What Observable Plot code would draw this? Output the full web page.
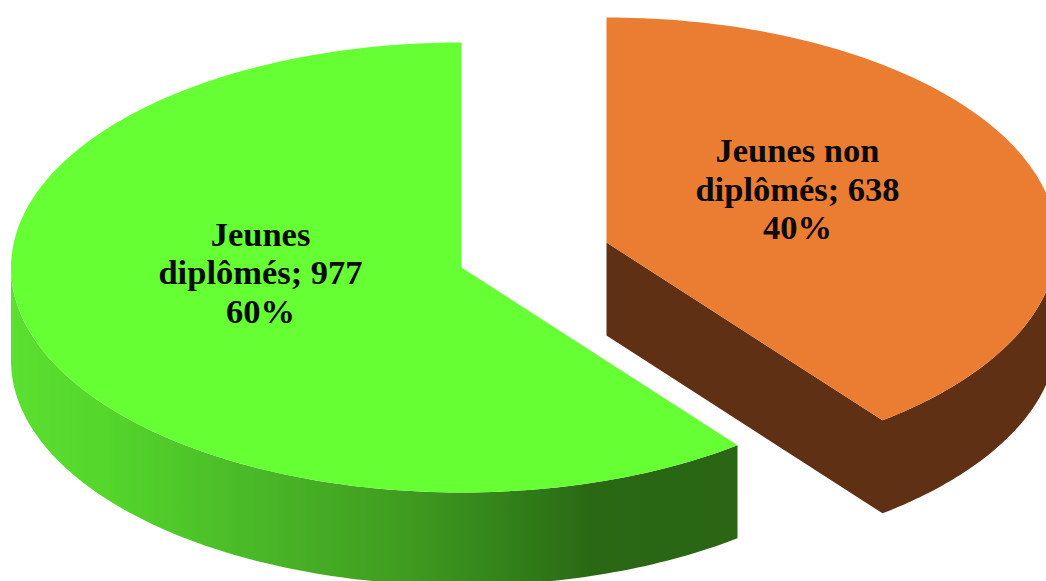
<!DOCTYPE html>
<html><head><meta charset="utf-8">
<script src="https://cdn.jsdelivr.net/npm/d3@7"></script>
<script src="https://cdn.jsdelivr.net/npm/@observablehq/plot@0.6"></script>
<style>html,body{margin:0;padding:0;background:#fff;overflow:hidden}</style>
</head><body><div id="chart"></div>
<script>
const categories = ["Jeunes diplômés", "Jeunes non diplômés"];
const counts = [977, 638];
const percents = ["60%", "40%"];
const labelLines = [["Jeunes", "diplômés; 977", "60%"], ["Jeunes non", "diplômés; 638", "40%"]];
const topColors = ["#66ff33", "#eb7d33"];
const sideColor = "#5f3014";

const W = 1046, H = 581, rx = 450.5, ry = 225, depth = 93;
const total = d3.sum(counts);
const sweep0 = counts[0] / total * 2 * Math.PI;
const centers = [[461, 267], [606, 242]];
// angle measured clockwise from 12 o'clock
const pt = (c, a, dy = 0) => [c[0] + rx * Math.sin(a), c[1] - ry * Math.cos(a) + dy];
const arc = (c, a0, a1, dy = 0) => d3.range(121).map(i => pt(c, a0 + (a1 - a0) * i / 120, dy));
const toRows = (id, pts) => pts.map(([x, y]) => ({id, x, y}));

const green0 = -sweep0, green1 = 0;
const orange0 = 0, orange1 = 2 * Math.PI - sweep0;

// top faces
const greenTop = [centers[0], ...arc(centers[0], green0, green1)];
const orangeTop = [centers[1], ...arc(centers[1], orange0, orange1)];

// green rim: visible from 9 o'clock going counter-clockwise to the cut edge
const gc = centers[0];
const gRimA = arc(gc, -Math.PI / 2, green0);
const greenRim = [...gRimA, ...gRimA.map(([x, y]) => [x, y + depth]).reverse()];

// orange side: one silhouette for the rim and the cut face
const oc = centers[1];
const oRimA = arc(oc, Math.PI / 2, orange1);
const orangeSide = [oc, [oc[0], oc[1] + depth], ...oRimA.map(([x, y]) => [x, y + depth]).reverse(), ...oRimA];

const gradient = () => {
  const svg = d3.create("svg:defs");
  const g = svg.append("linearGradient").attr("id", "rim").attr("gradientUnits", "userSpaceOnUse")
    .attr("x1", 11).attr("x2", 738).attr("y1", 0).attr("y2", 0);
  [[0, "#5bdf30"], [0.13, "#54d62b"], [0.32, "#4aba28"], [0.545, "#409b20"], [0.64, "#368a1c"], [0.8, "#2a6814"], [1, "#2a6614"]].forEach(([o, c]) =>
    g.append("stop").attr("offset", o).attr("stop-color", c));
  return svg.node();
};

const labels = labelLines.flatMap((lines, i) => lines.map((t, j) => ({
  t, x: [260, 797][i], y: [234, 150.5][i] + j * 38.5
})));

const shape = (pts, fill) => Plot.line(toRows(fill, pts), {x: "x", y: "y", fill, stroke: "none", curve: "linear"});

const chart = Plot.plot({
  width: W, height: H,
  margin: 0,
  x: {type: "identity", axis: null},
  y: {type: "identity", axis: null},
  marks: [
    gradient,
    shape(greenRim, "url(#rim)"),
    shape(orangeSide, sideColor),
    shape(greenTop, topColors[0]),
    shape(orangeTop, topColors[1]),
    Plot.text(labels, {x: "x", y: "y", text: "t", fontFamily: "Liberation Serif", fontWeight: "bold", fontSize: 34.5, fill: "#0a0a0a"})
  ]
});
document.getElementById("chart").append(chart);
</script></body></html>
